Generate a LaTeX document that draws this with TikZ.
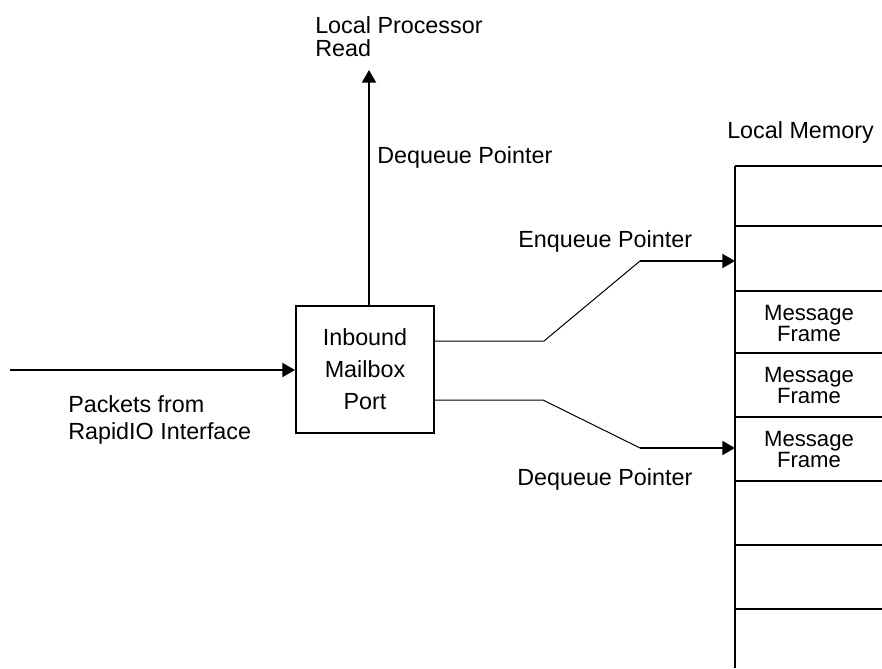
\documentclass[tikz,border=0pt]{standalone}
\usepackage{fontspec}
\setmainfont{Liberation Sans}
\usetikzlibrary{arrows.meta,positioning,calc}
\tikzset{
  mailbox/.style={rectangle,draw,line width=1.5pt,minimum width=103.5pt,minimum height=95.25pt,
    align=center,inner sep=0pt,font=\fontsize{17.5}{24}\selectfont},
  lbl/.style={inner sep=0pt,align=left,font=\fontsize{17.5}{20.25}\selectfont},
  framelbl/.style={inner sep=0pt,align=center,anchor=north,
    font={\fontsize{16.6}{15.5}\selectfont\lineskiplimit-20pt\relax}},
  bigarrow/.style={-{Triangle[length=9.5pt,width=10.5pt]},line width=1.5pt},
  thinline/.style={line width=0.75pt},
  memline/.style={line width=1.5pt},
}
\begin{document}
\begin{tikzpicture}[x=0.75pt,y=-0.75pt]
  \useasboundingbox (0,0) rectangle (882,668);
  % mailbox port
  \node[mailbox] (mbox) at (365,369.5) {Inbound\\Mailbox\\Port};
  % local memory
  \draw[memline] (735,165.7) -- (882,165.7);
  \foreach \yy in {226,290.7,352.7,416.7,480.7,545,609.3}
    \draw[memline] (735,\yy) -- (882,\yy);
  \draw[memline] (735,165.7) -- (735,668);
  \node[framelbl] (frame1) at (809,305) {Message\\Frame};
  \node[framelbl] (frame2) at (809,367) {Message\\Frame};
  \node[framelbl] (frame3) at (809,431) {Message\\Frame};
  % labels
  \node[lbl,anchor=north west,font=\fontsize{17.5}{17.25}\selectfont] (cpulbl) at (315,16) {Local Processor\\Read};
  \node[lbl,anchor=base west] (dequplbl) at (377,163) {Dequeue Pointer};
  \node[lbl,anchor=base west] (enqlbl) at (518,247) {Enqueue Pointer};
  \node[lbl,anchor=base west] (deqlbl) at (517,485) {Dequeue Pointer};
  \node[lbl,anchor=base west] (memlbl) at (727,138) {Local Memory};
  \node[lbl,anchor=north west] (pktlbl) at (68,395) {Packets from\\RapidIO Interface};
  % connector points
  \coordinate (src) at (10,370);
  \coordinate (cpu) at (369,70);
  \coordinate (enqbend) at (544,341);
  \coordinate (enqknee) at (640,261);
  \coordinate (enqslot) at (735,261);
  \coordinate (deqbend) at (543,400);
  \coordinate (deqknee) at (640,448);
  \coordinate (deqslot) at (735,448);
  % connectors
  \draw[bigarrow] (src) -- (src -| mbox.west);
  \draw[bigarrow] (cpu |- mbox.north) -- (cpu);
  \draw[thinline] (mbox.east |- enqbend) -- (enqbend) -- (enqknee);
  \draw[bigarrow] (enqknee) -- (enqslot);
  \draw[thinline] (mbox.east |- deqbend) -- (deqbend) -- (deqknee);
  \draw[bigarrow] (deqknee) -- (deqslot);
\end{tikzpicture}
\end{document}
